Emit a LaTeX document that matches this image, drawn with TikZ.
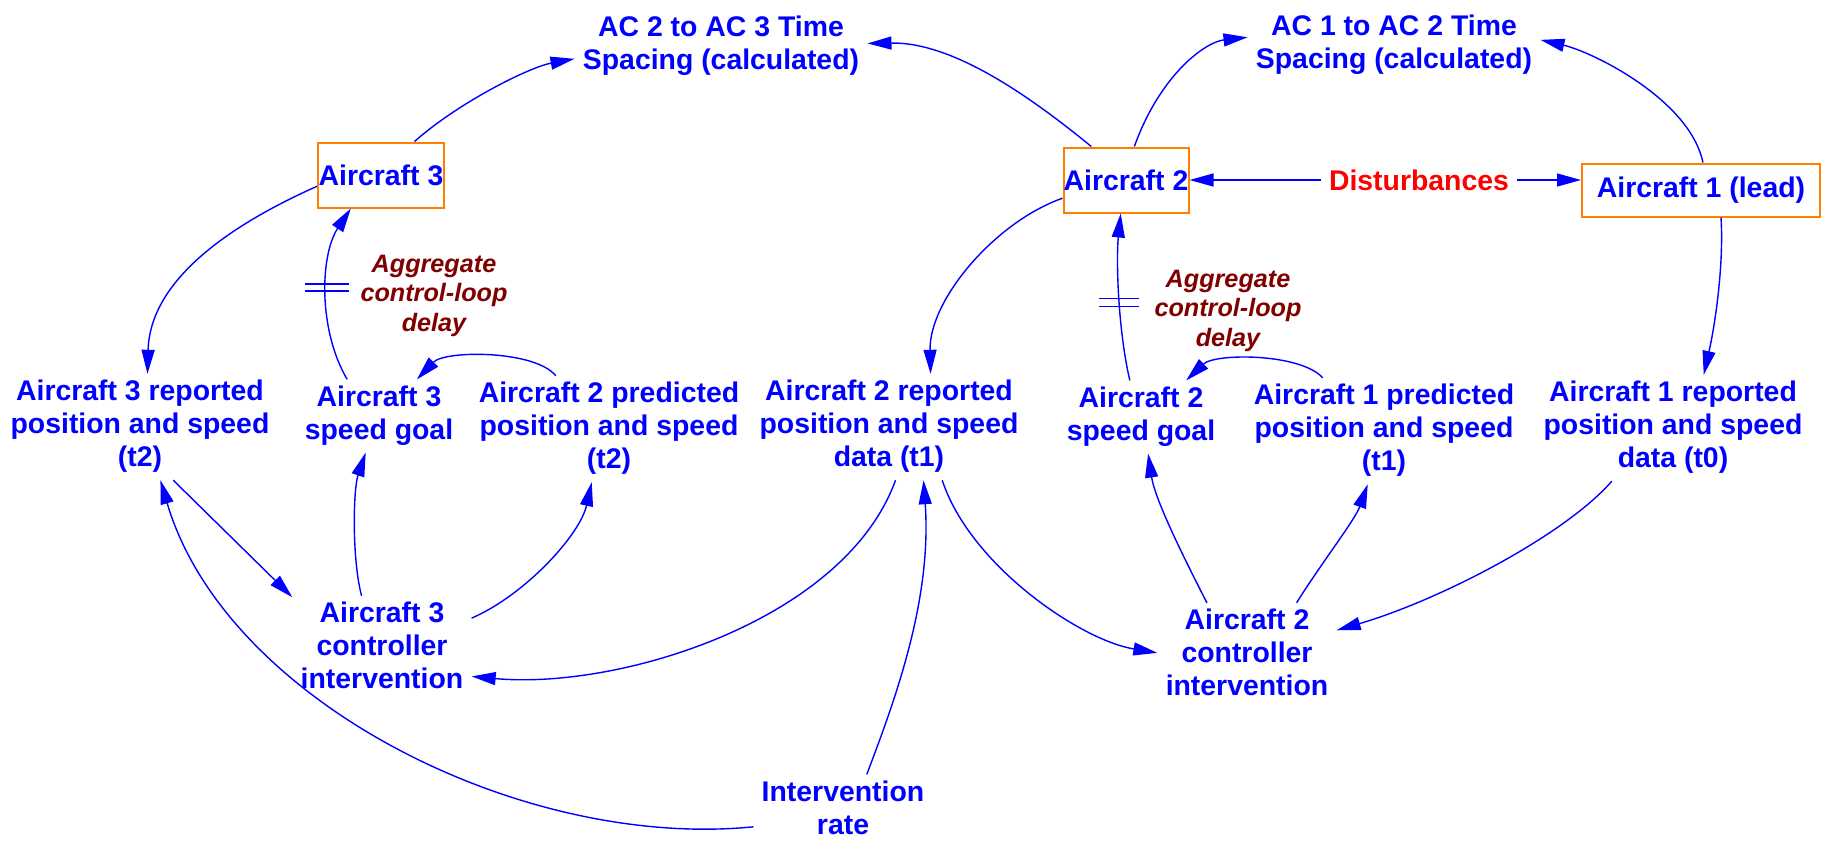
\documentclass[tikz,border=0pt]{standalone}
\usepackage{fontspec}
\setmainfont{Liberation Sans}
\usetikzlibrary{arrows.meta}
\definecolor{linkblue}{RGB}{0,0,255}
\definecolor{boxorange}{RGB}{255,128,0}
\definecolor{delayred}{RGB}{128,0,0}
\definecolor{distred}{RGB}{255,0,0}
% centred multi-line label with strut-based rows
\newcommand{\mltext}[1]{\begin{tabular}{@{}c@{}}#1\end{tabular}}
\begin{document}
\begin{tikzpicture}[x=0.5pt,y=-0.5pt,
  lbl/.style={text=linkblue,font=\fontsize{14.2pt}{16.6pt}\selectfont\bfseries,inner xsep=4pt,inner ysep=1.5pt},
  box/.style={draw=boxorange,line width=1pt,text=linkblue,font=\fontsize{14.2pt}{16.6pt}\selectfont\bfseries,inner sep=0pt},
  agg/.style={text=delayred,font=\fontsize{12.6pt}{14.8pt}\selectfont\bfseries\itshape,inner sep=1pt},
  arr/.style={draw=linkblue,line width=0.7pt,-{Triangle[length=12pt,width=6.5pt]}},
  dmark/.style={draw=linkblue,line width=0.7pt}]
\useasboundingbox (0,0) rectangle (1837,841);

% stocks
\node[box,minimum width=63pt,minimum height=32.5pt] (ac3) at (381,175) {Aircraft 3};
\node[box,minimum width=62.5pt,minimum height=32.5pt] (ac2) at (1126,180) {Aircraft 2};
\node[box,minimum width=119pt,minimum height=26.5pt] (ac1) at (1701,190) {Aircraft 1 (lead)};

% variables
\node[lbl] (t23) at (721,46) {\mltext{AC 2 to AC 3 Time\\Spacing (calculated)}};
\node[lbl] (t12) at (1394,45) {\mltext{AC 1 to AC 2 Time\\Spacing (calculated)}};
\node[lbl,text=distred] (dist) at (1419,180) {Disturbances};
\node[lbl] (r3) at (140,427) {\mltext{Aircraft 3 reported\\position and speed\\(t2)}};
\node[lbl] (sg3) at (379,416) {\mltext{Aircraft 3\\speed goal}};
\node[lbl] (p2) at (609,429) {\mltext{Aircraft 2 predicted\\position and speed\\(t2)}};
\node[lbl] (r2) at (889,427) {\mltext{Aircraft 2 reported\\position and speed\\data (t1)}};
\node[lbl] (sg2) at (1141,417) {\mltext{Aircraft 2\\speed goal}};
\node[lbl] (p1) at (1384,431) {\mltext{Aircraft 1 predicted\\position and speed\\(t1)}};
\node[lbl] (r1) at (1673,428) {\mltext{Aircraft 1 reported\\position and speed\\data (t0)}};
\node[lbl] (c3) at (382,649) {\mltext{Aircraft 3\\controller\\intervention}};
\node[lbl] (c2) at (1247,656) {\mltext{Aircraft 2\\controller\\intervention}};
\node[lbl] (ir) at (843,811) {\mltext{Intervention\\rate}};
\node[agg] (agg3) at (434,296) {\mltext{Aggregate\\control-loop\\delay}};
\node[agg] (agg2) at (1228,311) {\mltext{Aggregate\\control-loop\\delay}};

% links
\draw[arr] (ac3.45) .. controls (459,102) and (530,67) .. (t23.185);
\draw[arr] (ac2.136) .. controls (1026,93) and (951,42) .. (t23.1);
\draw[arr] (ac2.76) .. controls (1160,75) and (1205,42) .. (t12.177);
\draw[arr] (ac1.86) .. controls (1690,100) and (1593,52) .. (t12.2);
\draw[arr] (ac3.190) .. controls (230,225) and (150,280) .. (r3.82);
\draw[arr] (sg3.131) .. controls (318,330) and (320,255) .. coordinate[pos=0.53] (d3) (ac3.228);
\draw[arr] (p2.135) .. controls (535,350) and (445,350) .. (sg3.44);
\draw[arr] (ac2.196) .. controls (995,222) and (929,300) .. (r2.52);
\draw[arr] (sg2.107) .. controls (1118,330) and (1116,260) .. coordinate[pos=0.46] (d2) (ac2.261);
\draw[arr] (p1.139) .. controls (1300,353) and (1215,353) .. (sg2.39);
\draw[arr] (ac1.306) .. controls (1724,265) and (1715,325) .. (r1.60);
\draw[arr] (dist.west) -- (dist.west -| ac2.east);
\draw[arr] (dist.east) -- (dist.east -| ac1.west);
\draw[arr] (r3.302) -- (c3.150);
\draw[arr] (ir.190) .. controls (520,850) and (225,700) .. (r3.291);
\draw[arr] (c3.111) .. controls (352,560) and (353,490) .. (sg3.250);
\draw[arr] (c3.19) .. controls (525,595) and (580,535) .. (p2.252);
\draw[arr] (r2.277) .. controls (845,620) and (620,690) .. (c3.343);
\draw[arr] (ir.57) .. controls (895,700) and (932,600) .. (r2.303);
\draw[arr] (r2.315) .. controls (970,565) and (1080,640) .. (c2.178);
\draw[arr] (c2.127) .. controls (1185,560) and (1155,500) .. (sg2.281);
\draw[arr] (c2.47) .. controls (1320,565) and (1355,520) .. (p1.253);
\draw[arr] (r1.221) .. controls (1565,535) and (1440,600) .. (c2.16);

% delay marks
\draw[dmark] ([xshift=-11pt,yshift=1.75pt]d3) -- ++(22pt,0pt)
             ([xshift=-11pt,yshift=-1.75pt]d3) -- ++(22pt,0pt);
\draw[dmark] ([xshift=-10pt,yshift=2pt]d2) -- ++(20pt,0pt)
             ([xshift=-10pt,yshift=-2pt]d2) -- ++(20pt,0pt);
\end{tikzpicture}
\end{document}
